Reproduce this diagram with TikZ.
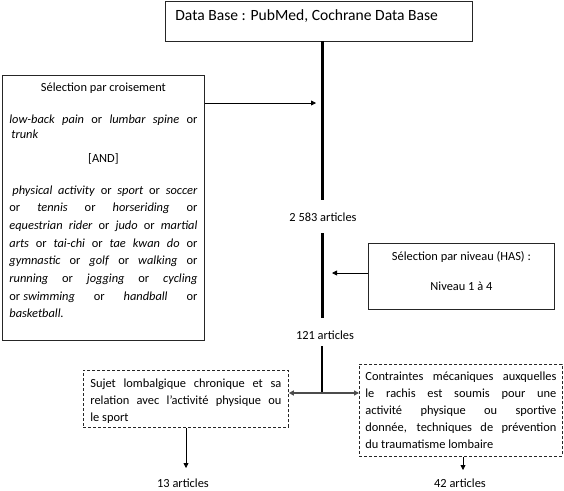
\documentclass[tikz,border=0pt]{standalone}
\usepackage{fontspec}
\setmainfont{Carlito}
\usetikzlibrary{arrows.meta,positioning}
\newcommand\jline[1]{\makebox[\linewidth][s]{#1}}

\begin{document}
\begin{tikzpicture}[x=1pt, y=-1pt,
  box/.style={draw=black!85, line width=0.8pt, inner sep=0pt,
              font=\fontsize{12.4}{15}\selectfont},
  dbox/.style={box, dash pattern=on 3pt off 2pt},
  count/.style={font=\fontsize{12.4}{15}\selectfont, inner sep=0pt},
  trunkline/.style={line width=3pt},
  conn/.style={-{Triangle[length=5pt, width=5pt]}, line width=0.8pt}
]
\useasboundingbox (0,0) rectangle (564,490);

\node[box, anchor=north west, inner xsep=10pt, text height=20pt, text depth=20pt,
      font=\fontsize{15.6}{18}\selectfont] (db) at (165,0.5)
  {\makebox[287pt][l]{Data Base : PubMed, Cochrane Data Base}};

\node[box, anchor=north west, inner xsep=7pt] (cross) at (2,75)
  {\parbox[t][265pt][t]{188pt}{\fontsize{12.4}{17.7}\selectfont\centering\vspace*{7pt}%
   Sélection par croisement\\[14.3pt]
   \jline{\textit{low-back} \textit{pain} or \textit{lumbar} \textit{spine} or}\\[-2.7pt]
   \makebox[\linewidth][l]{\hspace*{2pt}\textit{trunk}}\\[6.3pt]
   {[AND]}\\[14.3pt]
   \jline{\hspace*{3pt}\textit{physical activity} or \textit{sport} or \textit{soccer}}\\
   \jline{or \textit{tennis} or \textit{horseriding} or}\\
   \jline{\textit{equestrian rider} or \textit{judo} or \textit{martial}}\\
   \jline{\textit{arts} or \textit{tai-chi} or \textit{tae kwan do} or}\\
   \jline{\textit{gymnastic} or \textit{golf} or \textit{walking} or}\\
   \jline{\textit{running} or \textit{jogging} or \textit{cycling}}\\
   \jline{or\hspace{3pt}\textit{swimming} or \textit{handball} or}\\
   \makebox[\linewidth][l]{\textit{basketball.}}}};

\node[box, anchor=north west, minimum width=186pt, minimum height=66pt, align=center] (has) at (368,243)
  {Sélection par niveau (HAS) :\\[15pt]Niveau 1 à 4\rule[-10pt]{0pt}{10pt}};

\node[dbox, anchor=north west, inner xsep=7pt] (chron) at (83,370)
  {\parbox[t][57pt][t]{191pt}{\fontsize{12.4}{17}\selectfont\vspace*{8pt}%
   \jline{Sujet lombalgique chronique et sa}\\
   \jline{relation avec l’activité physique ou}\\
   le sport}};

\node[dbox, anchor=north west, inner xsep=6pt] (mech) at (359,364)
  {\parbox[t][92pt][t]{191pt}{\fontsize{12.4}{17}\selectfont\vspace*{7pt}%
   \jline{Contraintes mécaniques auxquelles}\\
   \jline{le rachis est soumis pour une}\\
   \jline{activité physique ou sportive}\\
   \jline{donnée, techniques de prévention}\\
   du traumatisme lombaire}};

\node[count] (n1) at (323,217) {2 583 articles};
\node[count] (n2) at (325,335) {121 articles};
\node[count] (n3) at (183,483) {13 articles};
\node[count] (n4) at (460,483) {42 articles};

\coordinate (a2) at (322,200);
\coordinate (b1) at (322,233);
\coordinate (b2) at (322,318);
\coordinate (c1) at (322,346);
\coordinate (c2) at (322,393);
\coordinate (in1) at (316,103);
\coordinate (in2) at (332,273);
\coordinate (d1) at (186,468);
\coordinate (d2) at (463,470);

\draw[trunkline] (a2 |- db.south) -- (a2);
\draw[trunkline] (b1) -- (b2);
\draw[line width=2pt] (c1) -- (c2);

\draw[conn] (in1 -| cross.east) -- (in1);
\draw[conn] (in2 -| has.west) -- (in2);
\draw[conn, line width=1.5pt, draw=black!70] (c2) -- (c2 -| chron.east);
\draw[conn, line width=1.5pt, draw=black!70] (c2) -- (c2 -| mech.west);
\draw[conn] (d1 |- chron.south) -- (d1);
\draw[conn] (d2 |- mech.south) -- (d2);
\end{tikzpicture}
\end{document}
